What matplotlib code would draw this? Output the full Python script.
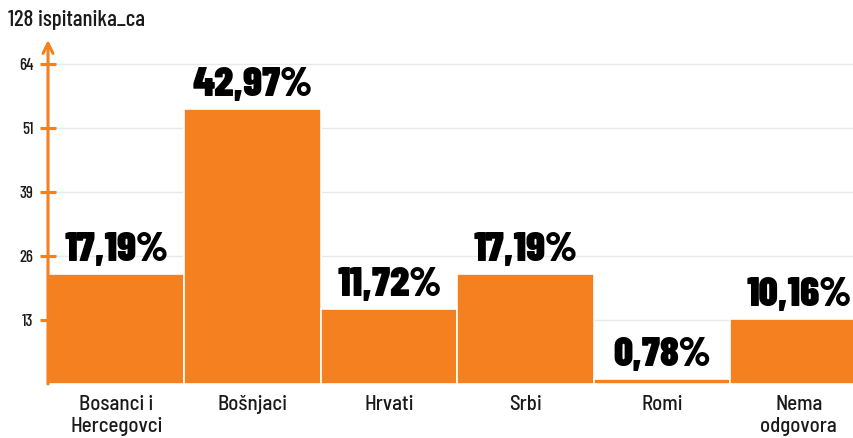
import matplotlib.pyplot as plt

total = 128
categories = ["Bosanci i\nHercegovci", "Bošnjaci", "Hrvati", "Srbi", "Romi", "Nema\nodgovora"]
counts = [22, 55, 15, 22, 1, 13]
tick_values = [12.8, 25.6, 38.4, 51.2, 64]
tick_labels = ["13", "26", "39", "51", "64"]

orange = "#f58020"
dark = "#1a1a1a"
semi = dict(family=["Barlow Semi Condensed", "DejaVu Sans"], fontstretch="semi-condensed",
            fontweight=500, color=dark)
cond = dict(family=["Barlow Condensed", "DejaVu Sans"], fontstretch="condensed",
            fontweight=500, color=dark)

fig = plt.figure(figsize=(8.54, 4.38), dpi=100)
ax = fig.add_axes([48 / 854, 54 / 438, 819 / 854, 344 / 438])

x = range(len(categories))
ax.bar(x, counts, width=1.0, color=orange, edgecolor="white", linewidth=1.2, zorder=2)

for xi, c in zip(x, counts):
    pct = f"{c / total * 100:.2f}%".replace(".", ",")
    ax.annotate(pct, (xi, c), xytext=(0, 4), textcoords="offset points",
                ha="center", va="bottom", fontsize=30, zorder=3,
                **{**cond, "fontweight": 900, "color": "black"})

ax.set_xlim(-0.5, 5.5)
ax.set_ylim(0, 68.8)
ax.set_yticks(tick_values)
ax.set_yticklabels(tick_labels, fontsize=12, **cond)
ax.set_xticks(list(x))
ax.set_xticklabels(categories, fontsize=15, linespacing=1.2, **semi)
ax.tick_params(axis="x", length=0, pad=8)
ax.tick_params(axis="y", direction="inout", length=11, width=2.2, color=orange, pad=5)

for v in tick_values:
    ax.axhline(v, color="#e9e9e9", linewidth=1, zorder=0)

for s in ["top", "right", "bottom", "left"]:
    ax.spines[s].set_visible(False)

# orange y axis with an open arrow tip
ax.annotate("", xy=(0, 1.0), xytext=(0, 0), xycoords="axes fraction",
            arrowprops=dict(arrowstyle="->", color=orange, lw=2.2,
                            mutation_scale=18, shrinkA=0, shrinkB=0), zorder=4)

fig.text(8 / 854, 1 - 20 / 438, "128 ispitanika_ca", fontsize=16.5,
         va="center", ha="left", **cond)

fig.savefig("out.png", dpi=100)
